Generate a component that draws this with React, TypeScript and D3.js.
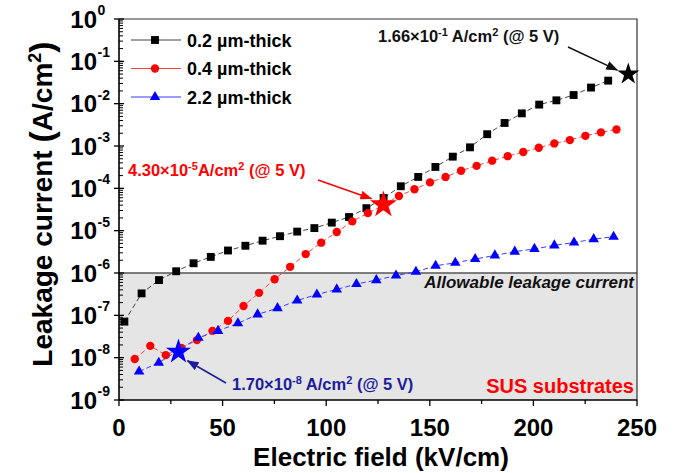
import React, { useRef, useEffect } from "react";
import * as d3 from "d3";

const W = 687;
const H = 473;
const FONT = "'Liberation Sans', Arial, sans-serif";

// 0.2 µm-thick
const field02 = [2.6, 10.9, 19.3, 27.6, 36.0, 44.3, 52.6, 61.0, 69.3, 77.7, 86.0, 94.3, 102.7, 111.0, 119.4, 127.7, 136.0, 144.4, 152.7, 161.1, 169.4, 177.7, 186.1, 194.4, 202.8, 211.1, 219.4, 227.8, 236.1];
const current02 = [7.1e-8, 3.3e-7, 6.8e-7, 1.1e-6, 1.7e-6, 2.4e-6, 3.4e-6, 4.4e-6, 5.8e-6, 7.4e-6, 9.5e-6, 1.15e-5, 1.55e-5, 2.1e-5, 3.4e-5, 5.9e-5, 1.12e-4, 1.86e-4, 3.2e-4, 5.6e-4, 9.3e-4, 1.9e-3, 3.5e-3, 5.9e-3, 9.5e-3, 1.2e-2, 1.6e-2, 2.4e-2, 3.5e-2];

// 0.4 µm-thick
const field04 = [7.6, 15.1, 22.6, 30.1, 37.6, 45.1, 52.6, 60.1, 67.6, 75.1, 82.6, 90.1, 97.6, 105.1, 112.6, 120.1, 127.6, 135.1, 142.6, 150.1, 157.6, 165.1, 172.6, 180.1, 187.6, 195.1, 202.6, 210.1, 217.6, 225.1, 232.6, 240.1];
const current04 = [9.3e-9, 1.9e-8, 1.15e-8, 1.7e-8, 2.6e-8, 4.3e-8, 7.4e-8, 1.66e-7, 3.4e-7, 7.1e-7, 1.4e-6, 2.8e-6, 5.2e-6, 9.3e-6, 1.66e-5, 2.6e-5, 4.0e-5, 6.6e-5, 9.5e-5, 1.38e-4, 1.86e-4, 2.6e-4, 3.4e-4, 4.5e-4, 5.75e-4, 7.2e-4, 9.1e-4, 1.15e-3, 1.38e-3, 1.74e-3, 2.1e-3, 2.45e-3];

// 2.2 µm-thick
const field22 = [9.7, 19.2, 28.7, 38.3, 47.8, 57.4, 66.9, 76.5, 86.0, 95.5, 105.1, 114.6, 124.2, 133.7, 143.3, 152.8, 162.3, 171.9, 181.4, 191.0, 200.5, 210.1, 219.6, 229.1, 238.7];
const current22 = [4.7e-9, 7.6e-9, 1.5e-8, 2.95e-8, 4.3e-8, 6.5e-8, 1.05e-7, 1.48e-7, 2.24e-7, 3.1e-7, 4.1e-7, 5.5e-7, 6.8e-7, 8.7e-7, 1.07e-6, 1.48e-6, 1.74e-6, 2.14e-6, 2.6e-6, 3.2e-6, 3.7e-6, 4.5e-6, 5.25e-6, 6.3e-6, 7.2e-6];

// values at 5 V (stars)
const starField = [245.8, 127.6, 28.7];
const starCurrent = [5.0e-2, 4.1e-5, 1.38e-8];
const starSize = [150, 225, 195];

const seriesLabels = ["0.2 µm-thick", "0.4 µm-thick", "2.2 µm-thick"];
const seriesColors = ["#000000", "#ff0000", "#0000ff"];
const lineColors = ["#444444", "#ff4040", "#3a3aff"];

const annoMain = ["1.66×10", "4.30×10", "1.70×10"];
const annoExp = ["-1", "-5", "-8"];
const annoUnit = [" A/cm", "A/cm", " A/cm"];
const annoColors = ["#111111", "#ff0000", "#1c1c9c"];

const xTicks = [0, 50, 100, 150, 200, 250];
const xMinor = [25, 75, 125, 175, 225];
const yExponents = [0, -1, -2, -3, -4, -5, -6, -7, -8, -9];
const allowable = 1e-6;

export default function App() {
  const svgRef = useRef<SVGSVGElement>(null);

  useEffect(() => {
    if (!svgRef.current) return;
    const svg = d3.select(svgRef.current);
    svg.selectAll("*").remove();

    const x = d3.scaleLinear().domain([0, 250]).range([119, 637]);
    const y = d3.scaleLog().domain([1e-9, 1]).range([400, 19]);
    const [x0, x1] = x.range();
    const [yb, yt] = y.range();

    // arrowheads
    const defs = svg.append("defs");
    annoColors.forEach((c, i) => {
      defs.append("marker").attr("id", `arr${i}`).attr("markerUnits", "userSpaceOnUse")
        .attr("markerWidth", 12).attr("markerHeight", 9).attr("refX", 11).attr("refY", 4.5).attr("orient", "auto")
        .append("path").attr("d", "M0,0 L12,4.5 L0,9 Z").attr("fill", c);
    });

    // allowable region
    svg.append("rect").attr("x", x0).attr("y", y(allowable)).attr("width", x1 - x0).attr("height", yb - y(allowable)).attr("fill", "#e5e5e5");
    svg.append("line").attr("x1", x0).attr("x2", x1).attr("y1", y(allowable)).attr("y2", y(allowable)).attr("stroke", "#555").attr("stroke-width", 1.3);

    // frame
    svg.append("path").attr("d", `M${x0},${yt} H${x1} V${yb}`).attr("fill", "none").attr("stroke", "#333").attr("stroke-width", 1.2);

    // y axis ticks
    const yMinor: number[] = [];
    yExponents.slice(1).forEach((e) => { for (let m = 2; m <= 9; m++) yMinor.push(m * Math.pow(10, e)); });
    svg.append("g").selectAll("line").data(yMinor).join("line")
      .attr("x1", x0).attr("x2", x0 + 4).attr("y1", (d) => y(d)).attr("y2", (d) => y(d)).attr("stroke", "#000").attr("stroke-width", 1);
    const yt_g = svg.append("g").selectAll("g").data(yExponents).join("g").attr("transform", (e) => `translate(0,${y(Math.pow(10, e))})`);
    yt_g.append("line").attr("x1", x0 - 5).attr("x2", x0 + 5).attr("stroke", "#000").attr("stroke-width", 1.3);
    yt_g.append("text").attr("x", 97).attr("y", 8.5).attr("text-anchor", "end").attr("font-size", 24).attr("font-weight", "bold").attr("font-family", FONT).text("10");
    yt_g.append("text").attr("x", 97.5).attr("y", -4).attr("font-size", 14).attr("font-weight", "bold").attr("font-family", FONT).text((e) => `${e}`);

    // x axis ticks
    svg.append("g").selectAll("line").data(xMinor).join("line")
      .attr("x1", (d) => x(d)).attr("x2", (d) => x(d)).attr("y1", yb).attr("y2", yb + 4).attr("stroke", "#000").attr("stroke-width", 1.3);
    const xt_g = svg.append("g").selectAll("g").data(xTicks).join("g").attr("transform", (d) => `translate(${x(d)},0)`);
    xt_g.append("line").attr("y1", yb).attr("y2", yb + 6).attr("stroke", "#000").attr("stroke-width", 1.3);
    xt_g.append("text").attr("y", 436).attr("text-anchor", "middle").attr("font-size", 24).attr("font-weight", "bold").attr("font-family", FONT).text((d) => d);

    // axis lines
    svg.append("path").attr("d", `M${x0},${yt} V${yb} H${x1}`).attr("fill", "none").attr("stroke", "#000").attr("stroke-width", 1.6);

    // series
    const series = [
      { field: field02, current: current02, shape: d3.symbolSquare, size: 62 },
      { field: field04, current: current04, shape: d3.symbolCircle, size: 55 },
      { field: field22, current: current22, shape: d3.symbolTriangle, size: 48 },
    ];
    series.forEach((s, i) => {
      const pts = s.field.map((f, j) => [x(f), y(s.current[j])] as [number, number]);
      svg.append("path").datum(pts).attr("d", d3.line()).attr("fill", "none")
        .attr("stroke", lineColors[i]).attr("stroke-width", 1).attr("stroke-dasharray", "5,3");
      svg.append("g").selectAll("path").data(pts).join("path")
        .attr("transform", (p) => `translate(${p[0]},${p[1]})`)
        .attr("d", d3.symbol().type(s.shape).size(s.size)()).attr("fill", seriesColors[i]);
    });

    // stars
    starField.forEach((f, i) => {
      svg.append("path").attr("transform", `translate(${x(f)},${y(starCurrent[i])})`)
        .attr("d", d3.symbol().type(d3.symbolStar).size(starSize[i])()).attr("fill", seriesColors[i]);
    });

    // annotations
    const annoPos = [
      { tx: 378, ty: 41.5, from: [568, 47], off: [-11, -4] },
      { tx: 128, ty: 176, from: [318, 180], off: [-12, -6] },
      { tx: 232, ty: 390, from: [226, 383], off: [9, 9] },
    ];
    annoPos.forEach((a, i) => {
      const t = svg.append("text").attr("x", a.tx).attr("y", a.ty).attr("font-size", 16.5).attr("font-weight", "bold")
        .attr("font-family", FONT).attr("fill", annoColors[i]);
      t.append("tspan").text(annoMain[i]);
      t.append("tspan").attr("font-size", 11).attr("dy", -6).text(annoExp[i]);
      t.append("tspan").attr("dy", 6).text(annoUnit[i]);
      t.append("tspan").attr("font-size", 11).attr("dy", -6).text("2");
      t.append("tspan").attr("dy", 6).text(" (@ 5 V)");
      svg.append("line").attr("x1", a.from[0]).attr("y1", a.from[1])
        .attr("x2", x(starField[i]) + a.off[0]).attr("y2", y(starCurrent[i]) + a.off[1])
        .attr("stroke", annoColors[i]).attr("stroke-width", 1.5).attr("marker-end", `url(#arr${i})`);
    });

    svg.append("text").attr("x", 634).attr("y", 288).attr("text-anchor", "end").attr("font-size", 17).attr("font-weight", "bold")
      .attr("font-style", "italic").attr("font-family", FONT).attr("fill", "#111").text("Allowable leakage current");
    svg.append("text").attr("x", 634).attr("y", 393).attr("text-anchor", "end").attr("font-size", 20).attr("font-weight", "bold")
      .attr("font-family", FONT).attr("fill", "#ff0000").text("SUS substrates");

    // legend
    const lg = svg.append("g").selectAll("g").data(seriesLabels).join("g").attr("transform", (_, i) => `translate(0,${40 + i * 28.5})`);
    lg.append("line").attr("x1", 131).attr("x2", 181).attr("stroke", (_, i) => lineColors[i]).attr("stroke-width", 1);
    lg.append("path").attr("transform", "translate(155,0)").attr("d", (_, i) => d3.symbol().type(series[i].shape).size(series[i].size)())
      .attr("fill", (_, i) => seriesColors[i]);
    lg.append("text").attr("x", 187).attr("y", 6.5).attr("font-size", 18).attr("font-weight", "bold").attr("font-family", FONT).text((d) => d);

    // axis titles
    svg.append("text").attr("x", (x0 + x1) / 2 + 3).attr("y", 466).attr("text-anchor", "middle").attr("font-size", 26)
      .attr("font-weight", "bold").attr("font-family", FONT).text("Electric field (kV/cm)");
    const yl = svg.append("text").attr("transform", "translate(52,204) rotate(-90)").attr("text-anchor", "middle")
      .attr("font-size", 28).attr("font-weight", "bold").attr("font-family", FONT);
    yl.append("tspan").text("Leakage current ");
    yl.append("tspan").attr("font-size", 34).attr("dy", 1).text("(");
    yl.append("tspan").attr("dy", -1).text("A/cm");
    yl.append("tspan").attr("font-size", 18).attr("dy", -11).text("2");
    yl.append("tspan").attr("font-size", 34).attr("dy", 12).text(")");
  }, []);

  return (
    <div style={{ position: "absolute", left: 0, top: 0 }}>
      <svg ref={svgRef} width={W} height={H} style={{ display: "block", background: "#fff" }} />
    </div>
  );
}
